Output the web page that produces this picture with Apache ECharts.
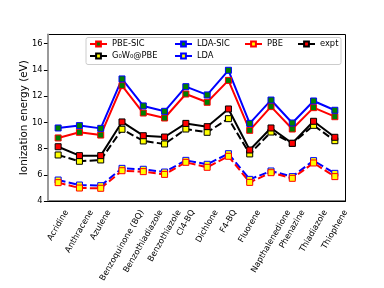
<!DOCTYPE html>
<html><head><meta charset="utf-8">
<script src="https://cdn.jsdelivr.net/npm/echarts@6/dist/echarts.min.js"></script>
<style>html,body{margin:0;padding:0;background:#fff}#c{width:384px;height:288px}</style>
</head><body><div id="c"></div>
<script>
const categories = ["Acridine","Anthracene","Azulene","Benzoquinone (BQ)","Benzothiadiazole","Benzothiazole","Cl4-BQ","Dichlone","F4-BQ","Fluorene","Napthalenedione","Phenazine","Thiadiazole","Thiophene"];
const pbeSic = [8.81,9.24,9.03,12.80,10.71,10.33,12.16,11.53,13.20,9.39,11.20,9.49,11.12,10.43];
const g0w0 = [7.51,7.03,7.13,9.47,8.58,8.35,9.49,9.24,10.28,7.59,9.26,8.40,9.77,8.60];
const ldaSic = [9.57,9.75,9.54,13.31,11.25,10.84,12.72,12.09,13.97,9.92,11.70,9.95,11.63,10.92];
const lda = [5.60,5.22,5.17,6.49,6.42,6.21,7.10,6.80,7.61,5.65,6.29,5.86,7.08,6.11];
const pbe = [5.40,4.99,4.97,6.31,6.24,6.03,6.95,6.57,7.41,5.42,6.16,5.73,6.90,5.86];
const expt = [8.14,7.46,7.46,10.03,8.98,8.88,9.92,9.67,11.02,7.89,9.57,8.40,10.08,8.86];
const yTicks = [4,6,8,10,12,14,16];

const F = 'DejaVu Sans';
const FS = 8.3;

function mk(name, data, lineColor, fill, dashed) {
  return {
    name, type: 'line', data, symbol: 'rect', symbolSize: 6,
    lineStyle: {color: lineColor, width: 2, type: dashed ? [7.5, 3.3] : 'solid'},
    itemStyle: {color: fill, borderColor: lineColor, borderWidth: 1},
    emphasis: {disabled: true}, animation: false
  };
}
const series = [
  mk('PBE-SIC', pbeSic, '#ff0000', '#008000', false),
  mk('G\u2080W\u2080@PBE', g0w0, '#000000', '#ffff00', true),
  mk('LDA-SIC', ldaSic, '#0000ff', '#008000', false),
  mk('LDA', lda, '#0000ff', '#ffff00', true),
  mk('PBE', pbe, '#ff0000', '#ffff00', true),
  mk('expt', expt, '#000000', '#ff0000', false)
];
function lg(name, left, top) {
  return {data: [name], left, top, padding: 0, itemWidth: 17, itemHeight: 6, itemGap: 4, z: 60,
    textStyle: {fontFamily: F, fontSize: FS, color: '#000'}, selectedMode: false};
}
const chart = echarts.init(document.getElementById('c'), null, {renderer: 'canvas'});
chart.setOption({
  animation: false,
  grid: {left: 47.5, right: 38.5, top: 34.5, bottom: 87, show: true, borderColor: '#000', borderWidth: 1, backgroundColor: 'transparent'},
  legend: [
    lg('PBE-SIC', 89, 40), lg('LDA-SIC', 174, 40), lg('PBE', 244, 40), lg('expt', 297, 40),
    lg('G\u2080W\u2080@PBE', 89, 52), lg('LDA', 174, 52)
  ],
  xAxis: {
    type: 'category', data: categories, boundaryGap: true,
    axisLine: {lineStyle: {color: '#000'}},
    axisTick: {alignWithLabel: true, length: 3.6, lineStyle: {color: '#000'}},
    axisLabel: {show: false},
    splitLine: {show: false}
  },
  yAxis: {
    type: 'value', min: 4, max: 16.7, interval: 2,
    name: 'Ionization energy (eV)', nameLocation: 'middle', nameGap: 18, nameMoveOverlap: false,
    nameTextStyle: {fontFamily: F, fontSize: 10.4, color: '#000'},
    axisLine: {show: true, lineStyle: {color: '#9a9a9a', width: 2}},
    axisTick: {show: true, length: 3.6, lineStyle: {color: '#000'}},
    axisLabel: {fontFamily: F, fontSize: FS, color: '#000', margin: 5, showMaxLabel: false,
      formatter: v => yTicks.includes(v) ? String(v) : ''},
    splitLine: {show: false}
  },
  series
});

// matplotlib-style rotated category labels: rotated bbox centred under each tick
const ctx = document.createElement('canvas').getContext('2d');
ctx.font = FS + 'px "' + F + '"';
const s60 = Math.sin(Math.PI / 3), c60 = Math.cos(Math.PI / 3);
const hTxt = FS * 1.17;
const axisY = chart.convertToPixel({yAxisIndex: 0}, 4);
const labels = categories.map((name, i) => {
  const L = ctx.measureText(name).width;
  const D = (L * s60 + hTxt * c60) / 2;
  return {
    type: 'text', x: chart.convertToPixel({xAxisIndex: 0}, i), y: axisY + 7.2 + D,
    rotation: Math.PI / 3, silent: true,
    style: {text: name, font: FS + 'px "' + F + '"', fill: '#000', align: 'center', verticalAlign: 'middle'}
  };
});
const legendBox = {type: 'rect', shape: {x: 86, y: 37.5, width: 255, height: 27, r: 2}, style: {fill: '#fff', stroke: '#ccc', lineWidth: 1}, z: 50};
chart.setOption({graphic: [legendBox].concat(labels)});
</script></body></html>
